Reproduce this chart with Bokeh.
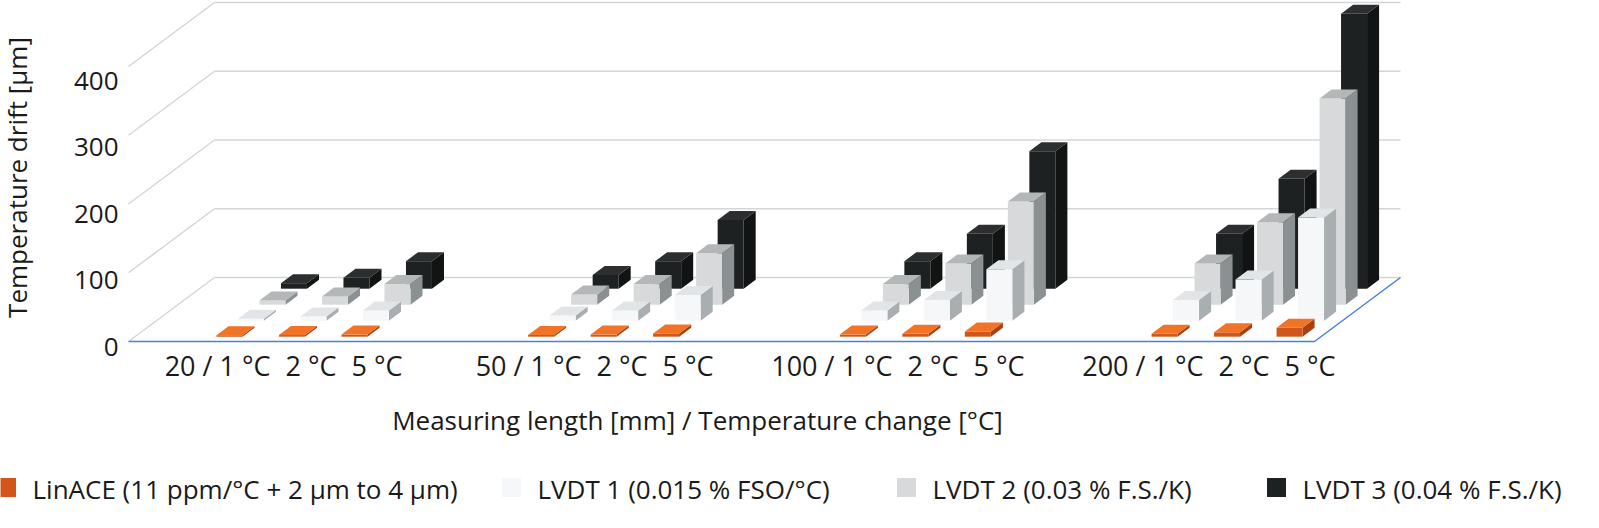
import numpy as np
from bokeh.plotting import figure
from bokeh.models import Range1d
from bokeh.embed import file_html
from bokeh.resources import INLINE
from bokeh.core.properties import value

# ---- data ----
lengths = ["20", "50", "100", "200"]
temp_changes = ["1 °C", "2 °C", "5 °C"]
series_names = ["LinACE (11 ppm/°C + 2 µm to 4 µm)", "LVDT 1 (0.015 % FSO/°C)",
                "LVDT 2 (0.03 % F.S./K)", "LVDT 3 (0.04 % F.S./K)"]
linace = [2.2, 2.4, 3.1, 2.6, 3.1, 4.8, 3.1, 4.2, 7.5, 4.2, 6.4, 13.0]
lvdt1 = [3, 6, 15, 7.5, 15, 37.5, 15, 30, 75, 30, 60, 150]
lvdt2 = [6, 12, 30, 15, 30, 75, 30, 60, 150, 60, 120, 300]
lvdt3 = [8, 16, 40, 20, 40, 100, 40, 80, 200, 80, 160, 400]
y_ticks = [0, 100, 200, 300, 400]
series = [linace, lvdt1, lvdt2, lvdt3]

# colours: (front, top, side)
colors = [("#d2561a", "#f07326", "#a9410f"),
          ("#f6f7f9", "#e2e5e7", "#a9aeb0"),
          ("#d7d9da", "#b3b7b8", "#8b9192"),
          ("#1e2122", "#2c2e2f", "#121414")]

# ---- geometry (x in front-plane px, y in µm) ----
SC = 0.6875           # px per µm
DX, DY = 21.5, 16 / SC  # per depth row
FRONT_W = 1186
W, H = 1575, 508
X0 = 136 - 8   # canvas x of front-left corner
Y0 = 349 - 8   # canvas y of zero line
p = figure(width=W, height=H, output_backend="svg", toolbar_location=None,
           x_range=Range1d(-X0, W - X0), y_range=Range1d(-(H - Y0) / SC, Y0 / SC),
           min_border=0)
p.axis.visible = False
p.grid.visible = False
p.outline_line_color = None

def off(d):
    return d * DX, d * DY

# walls / grid
grid_c = "#d3d6d8"
bx, by = off(4)
for v in y_ticks:
    p.line([bx, FRONT_W + bx], [v + by, v + by], line_color=grid_c, line_width=1.5)
    p.line([0, bx], [v, v + by], line_color=grid_c, line_width=1.5)
p.line([0, FRONT_W, FRONT_W + bx], [0, 0, by], line_color="#4a7fdc", line_width=1.5)

# bars
bw = 26
d0f, d1f = 0.3, 0.86
for s in range(3, -1, -1):
    fc, tc, sc = colors[s]
    fx, fy, tx, ty, sx, sy = [], [], [], [], [], []
    for g in range(4):
        for i in range(3):
            h = series[s][g * 3 + i]
            L = 81.5 + g * 311.7 + i * 62.5
            ax, ay = off(s + d0f)
            cx, cy = off(s + d1f)
            fx.append([L + ax, L + bw + ax, L + bw + ax, L + ax])
            fy.append([ay, ay, h + ay, h + ay])
            tx.append([L + ax, L + bw + ax, L + bw + cx, L + cx])
            ty.append([h + ay, h + ay, h + cy, h + cy])
            sx.append([L + bw + ax, L + bw + cx, L + bw + cx, L + bw + ax])
            sy.append([ay, cy, h + cy, h + ay])
    p.patches(sx, sy, fill_color=sc, line_color=None)
    p.patches(fx, fy, fill_color=fc, line_color=None)
    p.patches(tx, ty, fill_color=tc, line_color=None)

font = value("Open Sans")
tcol = "#1a1a1a"
def py2v(py):
    return (349 - py) / SC
def px2x(px):
    return px - 136

# y tick labels
p.text([-10] * len(y_ticks), [py2v(354 - 66.5 * k) for k in range(len(y_ticks))],
       text=[str(v) for v in y_ticks], text_align="right", text_baseline="middle",
       text_font=font, text_font_size="26px", text_color=tcol)
p.text([px2x(24)], [py2v(185)], text=["Temperature drift [µm]"], angle=np.pi / 2,
       text_align="center", text_baseline="middle", text_font=font,
       text_font_size="26px", text_color=tcol)

# category labels
lx, ly, lt = [], [], []
for g in range(4):
    for i in range(3):
        lx.append(px2x(278 + 311 * g + 66 * i))
        ly.append(py2v(373))
        lt.append(f"{lengths[g]} / {temp_changes[i]}" if i == 0 else temp_changes[i])
p.text(lx, ly, text=lt, text_align="right", text_baseline="middle",
       text_font=font, text_font_size="27px", text_color=tcol)
p.text([px2x(705)], [py2v(427)], text=["Measuring length [mm] / Temperature change [°C]"],
       text_align="center", text_baseline="middle", text_font=font,
       text_font_size="26px", text_color=tcol)

# legend
sq_x = [14, 519, 914, 1284]
tx_x = [40, 545, 940, 1310]
for k in range(4):
    p.scatter([px2x(sq_x[k])], [py2v(495)], marker="square", size=19,
              fill_color=colors[k][0], line_color=None)
p.text([px2x(x) for x in tx_x], [py2v(496)] * 4, text=series_names, text_align="left",
       text_baseline="middle", text_font=font, text_font_size="26px", text_color=tcol)

open("out.html", "w").write(file_html(p, INLINE))
